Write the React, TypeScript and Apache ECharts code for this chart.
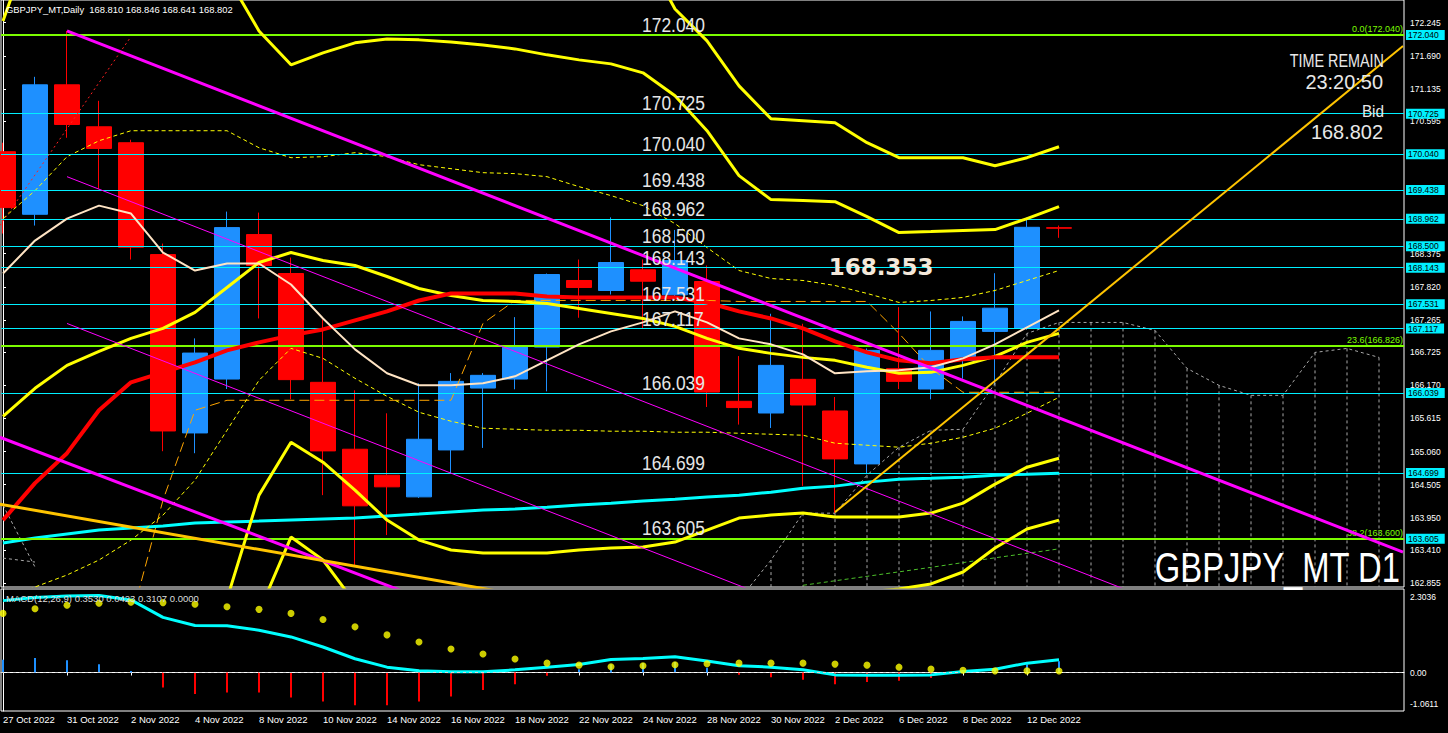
import React, { useEffect, useRef } from "react";
import * as echarts from "echarts";

// ---------- data ----------
const dates = [
  "27 Oct 2022", "28 Oct 2022", "31 Oct 2022", "1 Nov 2022", "2 Nov 2022", "3 Nov 2022", "4 Nov 2022",
  "7 Nov 2022", "8 Nov 2022", "9 Nov 2022", "10 Nov 2022", "11 Nov 2022", "14 Nov 2022", "15 Nov 2022",
  "16 Nov 2022", "17 Nov 2022", "18 Nov 2022", "21 Nov 2022", "22 Nov 2022", "23 Nov 2022", "24 Nov 2022",
  "25 Nov 2022", "28 Nov 2022", "29 Nov 2022", "30 Nov 2022", "1 Dec 2022", "2 Dec 2022", "5 Dec 2022",
  "6 Dec 2022", "7 Dec 2022", "8 Dec 2022", "9 Dec 2022", "12 Dec 2022", "13 Dec 2022",
];
const openP = [170.083, 169.035, 171.204, 170.501, 170.234, 168.36, 165.372, 166.275, 168.695, 168.043, 166.22, 165.099, 164.664, 164.301, 165.087, 166.124, 166.275, 166.81, 167.926, 167.758, 168.105, 167.686, 167.909, 165.902, 165.706, 166.27, 165.74, 164.853, 166.449, 166.108, 166.588, 167.073, 167.128, 168.81];
const highP = [170.234, 171.338, 172.107, 170.936, 170.284, 168.544, 166.956, 169.08, 169.063, 168.31, 167.273, 166.086, 165.701, 166.203, 166.375, 166.375, 167.312, 168.043, 168.277, 168.984, 168.277, 168.773, 168.177, 166.66, 167.369, 167.201, 165.974, 166.788, 167.479, 167.407, 167.324, 168.048, 168.984, 168.846];
const lowP = [168.712, 168.846, 170.317, 169.464, 168.277, 165.066, 165.032, 166.108, 167.29, 165.936, 164.33, 163.159, 163.661, 164.284, 164.693, 165.121, 166.103, 166.069, 167.302, 167.691, 167.128, 167.6, 165.807, 165.512, 165.455, 164.485, 164.023, 164.681, 166.108, 165.935, 166.282, 166.17, 167.1, 168.641];
const closeP = [169.147, 171.204, 170.54, 170.138, 168.483, 165.405, 166.71, 168.812, 168.177, 166.265, 165.071, 164.151, 164.469, 165.266, 166.236, 166.337, 166.81, 168.026, 167.809, 168.227, 167.914, 168.26, 166.057, 165.797, 166.504, 165.84, 164.937, 166.755, 166.236, 166.755, 167.24, 167.462, 168.817, 168.802];

// Bollinger bands (20): middle, +-1, +-2, +-3 sigma
const bbMid = [165.651, 166.12, 166.504, 166.739, 166.956, 167.123, 167.391, 167.809, 168.227, 168.394, 168.26, 168.177, 167.993, 167.792, 167.675, 167.591, 167.575, 167.541, 167.458, 167.374, 167.29, 167.157, 166.956, 166.789, 166.705, 166.638, 166.588, 166.471, 166.371, 166.387, 166.504, 166.655, 166.889, 167.04];
const bbUp1 = [168.963, 169.431, 170.0, 170.267, 170.435, 170.435, 170.435, 170.435, 170.15, 169.983, 170.0, 170.067, 170.0, 169.866, 169.799, 169.732, 169.716, 169.665, 169.498, 169.348, 169.18, 168.879, 168.478, 168.093, 167.959, 167.926, 167.842, 167.709, 167.558, 167.591, 167.642, 167.759, 167.926, 168.093];
const bbLo1 = [162.574, 162.791, 162.992, 163.243, 163.577, 163.996, 164.581, 165.417, 166.253, 166.789, 166.621, 166.287, 165.986, 165.718, 165.568, 165.451, 165.434, 165.417, 165.417, 165.401, 165.401, 165.384, 165.384, 165.367, 165.35, 165.334, 165.2, 165.166, 165.133, 165.2, 165.3, 165.451, 165.702, 165.969];
const bbUp2 = [172.275, 173.78, 174.282, 174.449, 174.282, 173.947, 173.613, 173.027, 172.107, 171.539, 171.739, 171.907, 171.973, 171.957, 171.923, 171.873, 171.806, 171.706, 171.622, 171.555, 171.405, 171.02, 170.435, 169.682, 169.281, 169.264, 169.247, 168.996, 168.729, 168.745, 168.762, 168.779, 168.963, 169.164];
const bbLo2 = [159.028, 158.46, 158.727, 159.028, 159.63, 160.299, 161.169, 162.591, 164.33, 165.217, 164.882, 164.414, 163.912, 163.577, 163.41, 163.36, 163.36, 163.36, 163.41, 163.444, 163.46, 163.544, 163.745, 163.945, 163.996, 164.029, 163.962, 163.962, 163.962, 164.029, 164.196, 164.514, 164.798, 164.949];
const bbUp3 = [175.586, 177.61, 178.162, 178.312, 177.944, 177.359, 176.723, 175.636, 174.047, 173.111, 173.479, 173.763, 173.964, 174.047, 174.047, 174.014, 173.93, 173.796, 173.713, 173.646, 173.462, 172.475, 171.94, 171.187, 170.635, 170.602, 170.569, 170.234, 169.983, 169.983, 169.983, 169.849, 169.983, 170.167];
const bbLo3 = [155.717, 154.63, 154.83, 155.181, 155.968, 156.887, 158.058, 159.982, 162.373, 163.628, 163.243, 162.524, 161.872, 161.47, 161.269, 161.236, 161.253, 161.269, 161.387, 161.47, 161.537, 161.738, 162.139, 162.524, 162.641, 162.725, 162.641, 162.708, 162.758, 162.842, 163.042, 163.444, 163.762, 163.912];

// moving averages
const maRed = [163.912, 164.531, 165.033, 165.752, 166.22, 166.387, 166.555, 166.755, 166.889, 167.006, 167.106, 167.257, 167.408, 167.591, 167.709, 167.709, 167.709, 167.658, 167.642, 167.642, 167.642, 167.642, 167.558, 167.408, 167.29, 167.123, 166.906, 166.722, 166.588, 166.538, 166.605, 166.638, 166.638, 166.638];
const maFast = [168.043, 168.595, 168.963, 169.18, 169.047, 168.394, 168.093, 168.21, 168.21, 167.859, 167.29, 166.772, 166.371, 166.17, 166.17, 166.203, 166.32, 166.588, 166.856, 167.073, 167.224, 167.408, 167.224, 166.956, 166.856, 166.688, 166.371, 166.404, 166.421, 166.471, 166.621, 166.856, 167.14, 167.424];
const maSlow = [163.527, 163.611, 163.678, 163.745, 163.778, 163.812, 163.862, 163.879, 163.895, 163.912, 163.929, 163.945, 163.979, 164.012, 164.046, 164.079, 164.096, 164.129, 164.163, 164.196, 164.23, 164.263, 164.297, 164.33, 164.38, 164.447, 164.481, 164.548, 164.598, 164.614, 164.631, 164.665, 164.681, 164.698];
const kijun = [160.901, 161.069, 161.236, 161.738, 162.239, 164.247, 165.752, 165.919, 165.919, 165.919, 165.919, 165.919, 165.919, 165.919, 165.919, 167.207, 167.592, 167.592, 167.592, 167.592, 167.592, 167.592, 167.592, 167.575, 167.575, 167.575, 167.575, 167.575, 167.04, 166.454, 166.053, 166.053, 166.053, 166.053];
// faint green dashed line at the lower right (bars 25..33)
const greenLowIdx = [25, 27, 29, 31, 33];
const greenLow = [162.82, 162.97, 163.12, 163.28, 163.43];

// Ichimoku cloud (shifted forward, bars 0..43)
const spanA = [164.162, 163.125, null, null, null, null, null, null, null, null, null, null, null, null, null, null, null, null, null, null, null, null, null, 162.573, 163.242, 164.028, 164.028, 164.664, 165.132, 165.416, 165.433, 166.202, 167.039, 167.223, 167.223, 167.223, 167.089, 166.453, 166.169, 166.002, 166.002, 166.721, 166.788, 166.637];
const spanB = [163.275, 163.209, null, null, null, null, null, null, null, null, null, null, null, null, null, null, null, null, null, null, null, null, null, 161.9, 161.9, 161.9, 161.9, 161.9, 161.9, 161.9, 161.9, 161.9, 161.9, 161.9, 161.9, 161.9, 161.9, 161.9, 161.9, 161.9, 161.9, 161.9, 161.9, 161.9];

// MACD(12,26,9)
const macdMain = [1.983, 2.067, 2.113, 2.122, 2.002, 1.52, 1.297, 1.288, 1.168, 0.982, 0.704, 0.38, 0.148, 0.046, 0.019, 0.019, 0.074, 0.148, 0.222, 0.361, 0.389, 0.436, 0.315, 0.185, 0.148, 0.074, -0.065, -0.074, -0.074, -0.065, 0.028, 0.093, 0.259, 0.353];
const macdSignal = [1.631, 1.761, 1.854, 1.909, 1.937, 1.928, 1.881, 1.816, 1.742, 1.631, 1.464, 1.26, 1.038, 0.843, 0.649, 0.51, 0.371, 0.259, 0.204, 0.158, 0.185, 0.213, 0.241, 0.259, 0.259, 0.259, 0.232, 0.204, 0.148, 0.093, 0.065, 0.046, 0.046, 0.0423];
const macdHist = [0.35, 0.4, 0.34, 0.23, 0.04, -0.41, -0.59, -0.55, -0.55, -0.69, -0.8, -0.9, -0.9, -0.8, -0.66, -0.48, -0.32, -0.09, 0.09, 0.22, 0.26, 0.29, 0.13, -0.06, -0.13, -0.2, -0.32, -0.26, -0.23, -0.15, 0.06, 0.09, 0.22, 0.3107];

// horizontal levels and Fibonacci
const levels = [172.04, 170.725, 170.04, 169.438, 168.962, 168.5, 168.143, 167.531, 167.117, 166.039, 164.699, 163.605];
const fibNames = ["0.0", "23.6", "38.2"];
const fibValues = [172.04, 166.826, 163.6];

// trend lines: [barIndex, price] endpoints
const trendMagentaUpper = [[2, 172.107], [43.75, 163.376]];
const trendMagentaLower = [[-0.1, 165.3], [16, 162.0]];
const trendMagentaThinA = [[2, 169.665], [40, 161.72]];
const trendMagentaThinB = [[2, 167.206], [30, 161.354]];
const trendGoldLower = [[-0.1, 164.179], [16, 162.671]];
const trendGoldRising = [[26, 164.045], [43.75, 171.855]];
const trendRedDotted = [[-0.1, 168.845], [3.97, 171.989]];

// axis ticks
const priceTicks = [172.245, 171.69, 171.135, 170.595, 168.375, 167.82, 167.265, 166.725, 166.17, 165.615, 165.06, 164.505, 163.95, 163.41, 162.855];
const macdTicks = [2.3036, 0, -1.0611];
const dateTickIdx = dates.map((_, i) => i).filter((i) => i % 2 === 0);

// ---------- styling ----------
const X_MIN = -0.0625;
const X_MAX = 43.78125;
const Y_MIN = 162.791;
const Y_MAX = 172.625;
const LABEL_X = 19.97;
const BULL = "#1E90FF";
const BEAR = "#FF0000";
const CYAN = "#00F0FF";
const GREEN = "#7CFC00";
const YELLOW = "#FFFF00";
const SANS = "'Liberation Sans', Arial, sans-serif";

const pts = (arr: (number | null)[]) => arr.map((v, i) => [i, v]);

function lineSeries(data: any[], color: string, width: number, type: any = "solid", z = 4) {
  return {
    type: "line",
    xAxisIndex: 0,
    yAxisIndex: 0,
    data,
    showSymbol: false,
    symbol: "none",
    silent: true,
    clip: true,
    connectNulls: false,
    lineStyle: { color, width, type },
    z,
  };
}

function txt(text: string, x: number, y: number, size: number, opts: any = {}) {
  return {
    type: "text",
    x,
    y,
    scaleX: opts.scaleX ?? 1,
    silent: true,
    z: 20,
    style: {
      text,
      fill: opts.fill ?? "#E8E8E8",
      fontSize: size,
      fontWeight: opts.bold ? "bold" : "normal",
      fontFamily: opts.family ?? SANS,
      textAlign: opts.align ?? "left",
      textVerticalAlign: "middle",
    },
  };
}

function staticTexts(): any[] {
  return [
    txt("GBPJPY_MT,Daily  168.810 168.846 168.641 168.802", 6, 9, 9.4, { fill: "#FFFFFF" }),
    txt("MACD(12,26,9) 0.3530 0.0423 0.3107 0.0000", 6, 598.5, 9.5, { fill: "#DDDDDD" }),
    txt("TIME REMAIN", 1384, 60.5, 18, { align: "right", scaleX: 0.8 }),
    txt("23:20:50", 1383, 81, 21, { align: "right", scaleX: 0.95 }),
    txt("Bid", 1384, 111, 17, { align: "right", scaleX: 0.9 }),
    txt("168.802", 1383, 131.5, 21, { align: "right", scaleX: 0.95 }),
    txt("168.353", 881, 267, 23, { align: "center", bold: true, fill: "#F4E8DA", family: "'DejaVu Sans', sans-serif" }),
    txt("GBPJPY_MT D1", 1400, 568, 42, { align: "right", scaleX: 0.78, fill: "#FFFFFF" }),
  ];
}

function buildOption(): any {
  const candleData = dates.map((_, i) => [i, openP[i], closeP[i], lowP[i], highP[i]]);
  const cloudData: number[][] = [];
  spanA.forEach((a, i) => {
    const b = spanB[i];
    if (a != null && b != null && i >= 24) cloudData.push([i, a, b]);
  });

  const markLineData: any[] = [];
  levels.forEach((v) => {
    markLineData.push({
      yAxis: v,
      lineStyle: { color: CYAN, width: 1, type: "solid" },
      label: {
        show: true,
        position: "end",
        distance: 2,
        formatter: v.toFixed(3),
        backgroundColor: CYAN,
        color: "#000",
        fontSize: 8.5,
        fontFamily: SANS,
        padding: [1, 6, 0, 2],
      },
    });
  });
  fibValues.forEach((v, k) => {
    markLineData.push({
      yAxis: v,
      lineStyle: { color: GREEN, width: 2, type: "solid" },
      label: {
        show: true,
        position: "insideEndTop",
        distance: 1,
        formatter: `${fibNames[k]}(${v.toFixed(3)})`,
        color: GREEN,
        fontSize: 9,
        fontFamily: SANS,
      },
    });
  });
  const bid = closeP[closeP.length - 1];
  markLineData.push({
    yAxis: bid,
    lineStyle: { opacity: 0, width: 0 },
    label: {
      show: true,
      position: "end",
      distance: 2,
      formatter: bid.toFixed(3),
      backgroundColor: "#FFFFFF",
      color: "#000",
      fontSize: 8.5,
      fontFamily: SANS,
      padding: [1, 6, 0, 2],
    },
  });

  const series: any[] = [
    {
      type: "candlestick",
      xAxisIndex: 0,
      yAxisIndex: 0,
      data: candleData,
      encode: { x: 0, y: [1, 2, 3, 4] },
      barWidth: 25,
      silent: true,
      itemStyle: { color: BULL, color0: BEAR, borderColor: BULL, borderColor0: BEAR, borderWidth: 1 },
      z: 2,
      markLine: {
        silent: true,
        symbol: ["none", "none"],
        animation: false,
        data: markLineData,
      },
    },
    {
      type: "custom",
      xAxisIndex: 0,
      yAxisIndex: 0,
      data: cloudData,
      silent: true,
      clip: true,
      z: 3,
      renderItem: (_p: any, api: any) => {
        const p1 = api.coord([api.value(0), api.value(1)]);
        const p2 = api.coord([api.value(0), api.value(2)]);
        return {
          type: "line",
          shape: { x1: p1[0], y1: p1[1], x2: p2[0], y2: p2[1] },
          style: { stroke: "#A8A8A8", lineWidth: 1, lineDash: [3, 3] },
        };
      },
    },
    lineSeries(pts(spanA), "#A8A8A8", 1, [3, 3], 3),
    lineSeries(pts(spanB), "#A8A8A8", 1, [3, 3], 3),
    lineSeries(greenLowIdx.map((x, k) => [x, greenLow[k]]), "#4CBF2A", 1, [4, 3], 3),
    lineSeries(pts(maSlow), "#00FFFF", 3, "solid", 4),
    lineSeries(pts(kijun), "#FFA500", 1, [10, 5], 4),
    lineSeries(pts(bbUp1), YELLOW, 1, [4, 3], 4),
    lineSeries(pts(bbLo1), YELLOW, 1, [4, 3], 4),
    lineSeries(pts(bbUp2), YELLOW, 3, "solid", 5),
    lineSeries(pts(bbLo2), YELLOW, 3, "solid", 5),
    lineSeries(pts(bbUp3), YELLOW, 3, "solid", 5),
    lineSeries(pts(bbLo3), YELLOW, 3, "solid", 5),
    lineSeries(pts(bbMid), YELLOW, 3, "solid", 5),
    lineSeries(pts(maRed), "#FF0000", 4, "solid", 5),
    lineSeries(pts(maFast), "#FFE4C4", 2, "solid", 5),
    lineSeries(trendMagentaUpper, "#FF00FF", 3, "solid", 6),
    lineSeries(trendMagentaLower, "#FF00FF", 3, "solid", 6),
    lineSeries(trendMagentaThinA, "#FF00FF", 1, "solid", 6),
    lineSeries(trendMagentaThinB, "#FF00FF", 1, "solid", 6),
    lineSeries(trendGoldLower, "#FFC400", 3, "solid", 6),
    lineSeries(trendGoldRising, "#FFC400", 2, "solid", 6),
    lineSeries(trendRedDotted, "#FF2020", 1, [2, 3], 6),
    // MACD pane
    {
      type: "bar",
      xAxisIndex: 1,
      yAxisIndex: 1,
      barWidth: 2,
      silent: true,
      data: macdHist.map((v, i) => ({ value: [i, v], itemStyle: { color: v >= 0 ? BULL : BEAR } })),
      markLine: {
        silent: true,
        symbol: ["none", "none"],
        label: { show: false },
        lineStyle: { color: "#D8D8D8", type: [3, 3], width: 1 },
        data: [{ yAxis: 0 }],
      },
    },
    {
      type: "line",
      xAxisIndex: 1,
      yAxisIndex: 1,
      data: pts(macdMain),
      showSymbol: false,
      symbol: "none",
      silent: true,
      lineStyle: { color: "#00FFFF", width: 3 },
      z: 4,
    },
    {
      type: "scatter",
      xAxisIndex: 1,
      yAxisIndex: 1,
      data: pts(macdSignal),
      symbolSize: 7,
      silent: true,
      itemStyle: { color: YELLOW },
      z: 5,
    },
  ];

  return {
    animation: false,
    backgroundColor: "#000000",
    grid: [
      { left: 1, right: 44, top: -1, height: 588, show: true, borderColor: "#FFFFFF", borderWidth: 1, backgroundColor: "transparent" },
      { left: 1, right: 44, top: 589, height: 122, show: true, borderColor: "#FFFFFF", borderWidth: 1, backgroundColor: "transparent" },
    ],
    xAxis: [
      { type: "value", gridIndex: 0, min: X_MIN, max: X_MAX, show: false },
      {
        type: "value",
        gridIndex: 1,
        min: X_MIN,
        max: X_MAX,
        splitLine: { show: false },
        axisLine: { show: true, lineStyle: { color: "#FFFFFF" } },
        axisTick: { show: true, customValues: dateTickIdx, length: 3, lineStyle: { color: "#FFFFFF" } },
        axisLabel: {
          show: true,
          customValues: dateTickIdx,
          formatter: (v: number) => dates[Math.round(v)] ?? "",
          align: "left",
          margin: 3,
          color: "#FFFFFF",
          fontSize: 9.5,
          fontFamily: SANS,
        },
      },
    ],
    yAxis: [
      {
        type: "value",
        gridIndex: 0,
        position: "right",
        min: Y_MIN,
        max: Y_MAX,
        splitLine: { show: false },
        axisLine: { show: true, lineStyle: { color: "#FFFFFF" } },
        axisTick: { show: true, customValues: priceTicks, length: 3, lineStyle: { color: "#FFFFFF" } },
        axisLabel: {
          show: true,
          customValues: priceTicks,
          formatter: (v: number) => v.toFixed(3),
          color: "#FFFFFF",
          fontSize: 8.5,
          fontFamily: SANS,
          margin: 6,
        },
      },
      {
        type: "value",
        gridIndex: 1,
        position: "right",
        min: -1.0611,
        max: 2.3036,
        splitLine: { show: false },
        axisLine: { show: true, lineStyle: { color: "#FFFFFF" } },
        axisTick: { show: false },
        axisLabel: {
          show: true,
          customValues: macdTicks,
          formatter: (v: number) => {
            if (v === 0) return "{z|0.00}";
            if (v > 0) return `{t|${v.toFixed(4)}}`;
            return `{b|${v.toFixed(4)}}`;
          },
          color: "#FFFFFF",
          fontSize: 8.5,
          fontFamily: SANS,
          margin: 6,
          rich: {
            z: { fontSize: 8.5, fontFamily: SANS, color: "#FFFFFF" },
            t: { fontSize: 8.5, fontFamily: SANS, color: "#FFFFFF", padding: [16, 0, 0, 0] },
            b: { fontSize: 8.5, fontFamily: SANS, color: "#FFFFFF", padding: [0, 0, 14, 0] },
          },
        },
      },
    ],
    series,
    graphic: staticTexts(),
  };
}

export default function App() {
  const ref = useRef<HTMLDivElement>(null);
  useEffect(() => {
    document.body.style.margin = "0";
    document.body.style.background = "#000";
    const chart = echarts.init(ref.current as HTMLDivElement, null, { renderer: "svg" });
    chart.setOption(buildOption());
    // level captions placed through the chart's own price scale
    const levelTexts = levels.map((v) => {
      const p = chart.convertToPixel({ gridIndex: 0 }, [LABEL_X, v]) as number[];
      return txt(v.toFixed(3), p[0], p[1] - 10, 21, { scaleX: 0.83, fill: "#E6E6E6" });
    });
    chart.setOption({ graphic: [...staticTexts(), ...levelTexts] });
    return () => {
      chart.dispose();
    };
  }, []);
  return <div ref={ref} style={{ position: "fixed", left: 0, top: 0, width: 1448, height: 733, background: "#000" }} />;
}
